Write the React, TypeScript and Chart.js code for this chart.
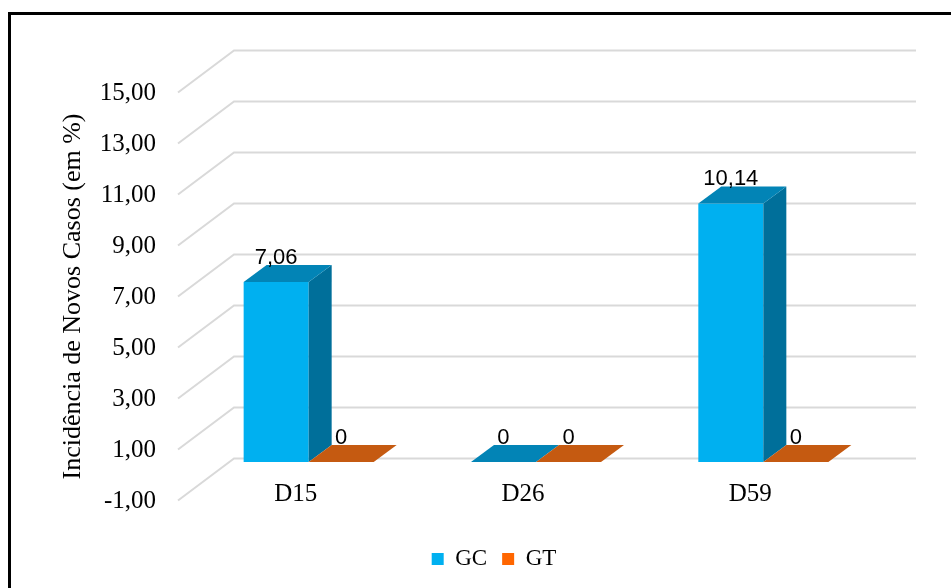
import React, { useEffect, useRef } from 'react';
import { Chart, registerables } from 'chart.js';

Chart.register(...registerables);

// ---- data ----
const categories = ['D15', 'D26', 'D59'];
const seriesNames = ['GC', 'GT'];
const gcValues = [7.06, 0, 10.14];
const gtValues = [0, 0, 0];
const yTickValues = [-1, 1, 3, 5, 7, 9, 11, 13, 15];
const yTitle = 'Incidência de Novos Casos (em %)';

// ---- styles ----
const FRONT = ['#00B0F0', '#FF6600'];
const TOP = ['#0284B6', '#C55A11'];
const SIDE = ['#006F9A', '#A34A0A'];
const GRID = '#D9D9D9';
const SERIF = '"Liberation Serif", "Times New Roman", serif';
const SANS = '"Liberation Sans", Arial, sans-serif';

// 3D geometry (pixels)
const WALL_DX = 56;
const WALL_DY = 42;
const BAR_DX = 17;
const BAR_DY = 13;
const DEPTH_DX = 23;
const DEPTH_DY = 17;

const fmtTick = (v: number) => v.toFixed(2).replace('.', ',');
const fmtVal = (v: number) => String(v).replace('.', ',');

const threeD = {
  id: 'threeD',
  beforeDatasetsDraw(chart: any) {
    const { ctx, chartArea, scales } = chart;
    const y = scales.y;
    ctx.save();
    ctx.strokeStyle = GRID;
    ctx.lineWidth = 2;
    y.ticks.forEach((t: any) => {
      const py = y.getPixelForValue(t.value);
      ctx.beginPath();
      ctx.moveTo(chartArea.left, py);
      ctx.lineTo(chartArea.left + WALL_DX, py - WALL_DY);
      ctx.lineTo(chartArea.right + WALL_DX, py - WALL_DY);
      ctx.stroke();
    });
    ctx.restore();
    ctx.save();
    ctx.translate(BAR_DX, -BAR_DY);
  },
  afterDatasetsDraw(chart: any) {
    const { ctx } = chart;
    ctx.restore();
    const labels: any[] = [];
    chart.data.datasets.forEach((ds: any, di: number) => {
      const meta = chart.getDatasetMeta(di);
      meta.data.forEach((el: any, i: number) => {
        const { x, y, base, width } = el.getProps(['x', 'y', 'base', 'width'], true);
        const x0 = x - width / 2 + BAR_DX;
        const x1 = x + width / 2 + BAR_DX;
        const yt = y - BAR_DY;
        const yb = base - BAR_DY;
        // side face
        if (yb - yt > 0.5) {
          ctx.fillStyle = SIDE[di];
          ctx.beginPath();
          ctx.moveTo(x1, yt);
          ctx.lineTo(x1 + DEPTH_DX, yt - DEPTH_DY);
          ctx.lineTo(x1 + DEPTH_DX, yb - DEPTH_DY);
          ctx.lineTo(x1, yb);
          ctx.closePath();
          ctx.fill();
        }
        // top face
        ctx.fillStyle = TOP[di];
        ctx.beginPath();
        ctx.moveTo(x0, yt);
        ctx.lineTo(x0 + DEPTH_DX, yt - DEPTH_DY);
        ctx.lineTo(x1 + DEPTH_DX, yt - DEPTH_DY);
        ctx.lineTo(x1, yt);
        ctx.closePath();
        ctx.fill();
        labels.push({ text: fmtVal(ds.data[i]), x: x + BAR_DX, y: yt - DEPTH_DY - 1 });
      });
    });
    ctx.save();
    ctx.fillStyle = '#000';
    ctx.font = `22px ${SANS}`;
    ctx.textAlign = 'center';
    ctx.textBaseline = 'alphabetic';
    labels.forEach((l) => ctx.fillText(l.text, l.x, l.y));
    ctx.restore();
  },
};

const legendShift = {
  id: 'legendShift',
  afterLayout(chart: any) {
    const l = chart.legend;
    if (l) {
      l.left += 64;
      l.right += 64;
    }
  },
};

export default function App() {
  const ref = useRef<HTMLCanvasElement | null>(null);
  useEffect(() => {
    if (!ref.current) return;
    const chart = new Chart(ref.current, {
      type: 'bar',
      data: {
        labels: categories,
        datasets: [
          { label: seriesNames[0], data: gcValues, backgroundColor: FRONT[0], borderWidth: 0 },
          { label: seriesNames[1], data: gtValues, backgroundColor: FRONT[1], borderWidth: 0 },
        ],
      },
      options: {
        responsive: false,
        animation: false,
        devicePixelRatio: 1,
        layout: { padding: { left: 0, right: 91, top: 92.5, bottom: 7.5 } },
        datasets: { bar: { categoryPercentage: 0.572, barPercentage: 1 } },
        scales: {
          x: {
            grid: { display: false },
            border: { display: false },
            ticks: {
              color: '#000',
              font: { family: SERIF, size: 25 },
              padding: -29,
              labelOffset: 4,
            },
            afterFit: (s: any) => {
              s.height = 32;
              s._computeLabelArea = () => undefined;
            },
          },
          y: {
            min: -1,
            max: 15,
            grid: { display: false },
            border: { display: false },
            afterBuildTicks: (s: any) => {
              s.ticks = yTickValues.map((v) => ({ value: v }));
            },
            ticks: {
              color: '#000',
              font: { family: SERIF, size: 25 },
              padding: 14,
              labelOffset: 1,
              callback: (v: any) => fmtTick(Number(v)),
            },
            title: {
              display: true,
              text: yTitle,
              color: '#000',
              font: { family: SERIF, size: 26 },
              padding: { top: 58, bottom: 0 },
            },
            afterFit: (s: any) => {
              s.width = 178;
            },
          },
        },
        plugins: {
          tooltip: { enabled: false },
          legend: {
            position: 'bottom',
            labels: {
              boxWidth: 12,
              boxHeight: 12,
              padding: 15,
              color: '#000',
              font: { family: SERIF, size: 23 },
            },
          },
        },
      },
      plugins: [threeD, legendShift],
    } as any);
    return () => chart.destroy();
  }, []);

  return (
    <div style={{ position: 'fixed', left: 0, top: 0, width: 951, height: 588, overflow: 'hidden', background: '#fff' }}>
      <div
        style={{
          position: 'absolute',
          left: 8,
          top: 12,
          width: 1000,
          height: 1000,
          borderLeft: '3px solid #000',
          borderTop: '3px solid #000',
          boxSizing: 'border-box',
        }}
      />
      <canvas ref={ref} width={951} height={588} style={{ position: 'absolute', left: 0, top: 0, width: 951, height: 588 }} />
    </div>
  );
}
